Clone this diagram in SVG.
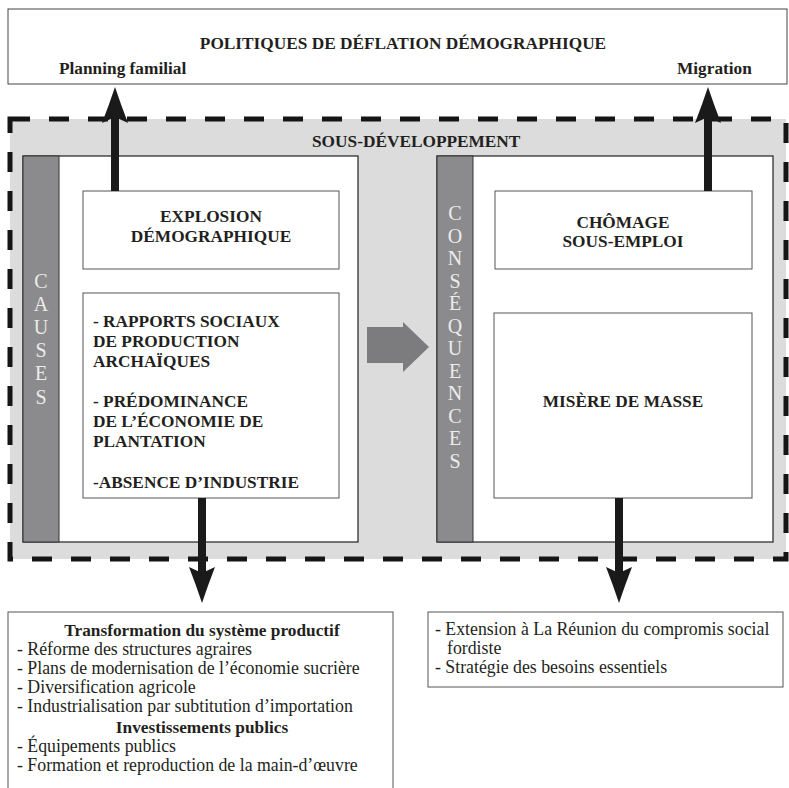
<svg xmlns="http://www.w3.org/2000/svg" width="789" height="788" viewBox="0 0 789 788">
<defs>
<style>
text{font-family:"Liberation Serif","Times New Roman",serif;fill:#231f20}
.b{font-weight:bold;font-size:17.3px}
.r{font-size:17.8px}
.c{text-anchor:middle}
.bar{fill:#8b8b8d;stroke:#333;stroke-width:1}
.bt{font-size:20px;fill:#ececec;text-anchor:middle}
.box{fill:#fff;stroke:#555;stroke-width:1}
.panel{fill:#fff;stroke:#222;stroke-width:1.2}
.arr{stroke:#1a1a1a;stroke-width:8;fill:none}
</style>
<marker id="ah" markerUnits="userSpaceOnUse" markerWidth="40" markerHeight="30" refX="6" refY="13" orient="auto" overflow="visible">
<path d="M0,0 Q18,7 36,13 Q18,19 0,26 L6,13 Z" fill="#1a1a1a"/>
</marker>
</defs>
<rect width="789" height="788" fill="#fff"/>

<g id="politiques">
<rect x="8" y="9" width="779" height="75" fill="#fff" stroke="#444" stroke-width="1"/>
<text class="b c" x="403" y="49">POLITIQUES DE DÉFLATION DÉMOGRAPHIQUE</text>
<text class="b" x="59" y="74">Planning familial</text>
<text class="b" x="677" y="74">Migration</text>
</g>

<g id="sous-developpement">
<rect x="10" y="119" width="776" height="440" fill="#dcdcdd" stroke="#151515" stroke-width="5" stroke-dasharray="20 19"/>
<text class="b" x="312" y="147">SOUS-DÉVELOPPEMENT</text>
</g>

<g id="causes">
<rect class="panel" x="23" y="156" width="335" height="386"/>
<rect class="bar" x="23" y="156" width="36" height="386"/>
<text class="bt"><tspan x="41" y="288">C</tspan><tspan x="41" y="311">A</tspan><tspan x="41" y="334">U</tspan><tspan x="41" y="357">S</tspan><tspan x="41" y="380">E</tspan><tspan x="41" y="404">S</tspan></text>
</g>

<g id="explosion">
<rect class="box" x="83" y="191" width="256" height="78"/>
<text class="b c" x="211" y="222">EXPLOSION</text>
<text class="b c" x="211" y="242">DÉMOGRAPHIQUE</text>
</g>

<g id="rapports">
<rect class="box" x="83" y="293" width="256" height="205"/>
<text class="b" x="93" y="327">- RAPPORTS SOCIAUX</text>
<text class="b" x="93" y="347">DE PRODUCTION</text>
<text class="b" x="93" y="367">ARCHAÏQUES</text>
<text class="b" x="93" y="407">- PRÉDOMINANCE</text>
<text class="b" x="93" y="427">DE L’ÉCONOMIE DE</text>
<text class="b" x="93" y="447">PLANTATION</text>
<text class="b" x="93" y="488">-ABSENCE D’INDUSTRIE</text>
</g>

<g id="consequences">
<rect class="panel" x="437" y="156" width="336" height="386"/>
<rect class="bar" x="437" y="156" width="36" height="386"/>
<text class="bt"><tspan x="455" y="220">C</tspan><tspan x="455" y="242.5">O</tspan><tspan x="455" y="265">N</tspan><tspan x="455" y="287.5">S</tspan><tspan x="455" y="310">É</tspan><tspan x="455" y="332.5">Q</tspan><tspan x="455" y="355">U</tspan><tspan x="455" y="377.5">E</tspan><tspan x="455" y="400">N</tspan><tspan x="455" y="422.5">C</tspan><tspan x="455" y="445">E</tspan><tspan x="455" y="467.5">S</tspan></text>
</g>

<g id="chomage">
<rect class="box" x="495" y="191" width="257" height="78"/>
<text class="b c" x="623" y="228">CHÔMAGE</text>
<text class="b c" x="623" y="247">SOUS-EMPLOI</text>
</g>

<g id="misere">
<rect class="box" x="494" y="313" width="258" height="185"/>
<text class="b c" x="623" y="407">MISÈRE DE MASSE</text>
</g>

<g id="transformation">
<rect class="box" x="8" y="612" width="385" height="200"/>
<text class="b c" x="202" y="636">Transformation du système productif</text>
<text class="r" x="17" y="655">- Réforme des structures agraires</text>
<text class="r" x="17" y="674">- Plans de modernisation de l’économie sucrière</text>
<text class="r" x="17" y="693">- Diversification agricole</text>
<text class="r" x="17" y="712">- Industrialisation par subtitution d’importation</text>
<text class="b c" x="202" y="733">Investissements publics</text>
<text class="r" x="17" y="752">- Équipements publics</text>
<text class="r" x="17" y="771">- Formation et reproduction de la main-d’œuvre</text>
</g>

<g id="extension">
<rect class="box" x="428" y="612" width="355" height="75"/>
<text class="r" x="435" y="635">- Extension à La Réunion du compromis social</text>
<text class="r" x="447" y="654">fordiste</text>
<text class="r" x="435" y="673">- Stratégie des besoins essentiels</text>
</g>

<g id="connectors">
<path class="arr" d="M115,191 V117" marker-end="url(#ah)"/>
<path class="arr" d="M708,191 V117" marker-end="url(#ah)"/>
<path class="arr" d="M202,498 V573" marker-end="url(#ah)"/>
<path class="arr" d="M619,498 V573" marker-end="url(#ah)"/>
<polygon points="367,327 403,327 403,322 429,347 403,372 403,363 367,363" fill="#7c7c7e"/>
</g>
</svg>
